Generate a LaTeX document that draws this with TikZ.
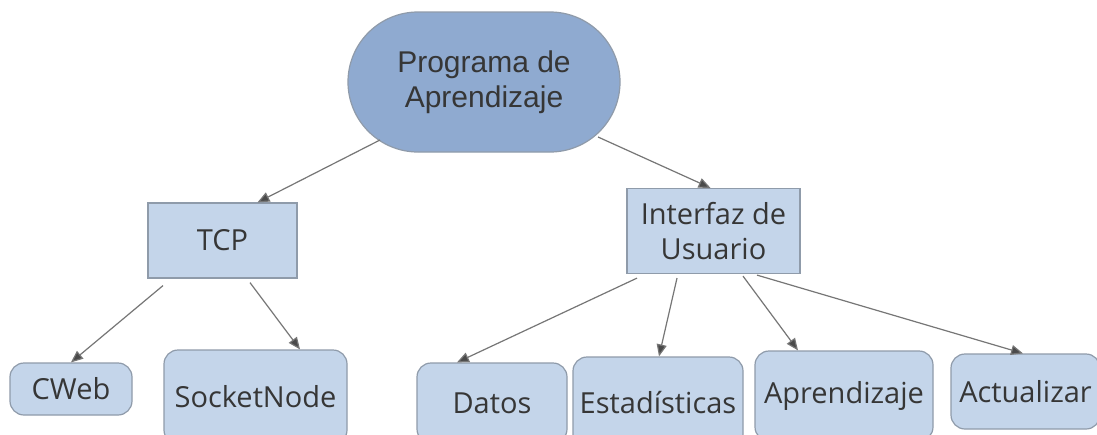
\documentclass[tikz,border=0pt]{standalone}
\usepackage{fontspec}
\setmainfont{Open Sans}
\newfontfamily\arialfont{Liberation Sans}
\usepackage{tikz}
\usetikzlibrary{arrows.meta,calc}
\definecolor{TopFill}{HTML}{8FAAD0}
\definecolor{BoxFill}{HTML}{C4D5EA}
\definecolor{EdgeGray}{HTML}{8F9BAA}
\definecolor{LineGray}{HTML}{767676}
\definecolor{TipGray}{HTML}{4A4A4A}
\definecolor{TextGray}{HTML}{363636}

\begin{document}
\begin{tikzpicture}[
    x=1pt, y=-1pt,
    text=TextGray,
    root/.style={rectangle, rounded corners=70pt, draw=EdgeGray, fill=TopFill, line width=1.2pt, align=center, inner sep=0pt, minimum width=272pt, minimum height=140pt, font=\arialfont\fontsize{30}{35}\selectfont},
    mid/.style={rectangle, draw=EdgeGray, fill=BoxFill, line width=1.2pt, align=center, inner sep=0pt, font=\fontsize{29}{35}\selectfont},
    leaf/.style={rectangle, rounded corners=14pt, draw=EdgeGray, fill=BoxFill, line width=1.2pt, align=center, inner sep=0pt, font=\fontsize{29}{35}\selectfont},
    arrow/.style={-{Triangle[length=12pt, width=10pt, fill=TipGray]}, line width=1.2pt, draw=LineGray}
]
\useasboundingbox (0,0) rectangle (1097,434);
\clip (0,0) rectangle (1097,434);
\fill[white] (0,0) rectangle (1097,434);

\node[root] (prog) at (484,82) {Programa de\\Aprendizaje};

\node[mid, minimum width=149pt, minimum height=75pt] (tcp) at (222.5,240.5) {TCP};
\node[mid, minimum width=173pt, minimum height=85pt] (iu) at (713.5,231) {Interfaz de\\Usuario};

\node[leaf, minimum width=122pt, minimum height=52pt] (cweb) at (71,389) {CWeb};
\node[leaf, minimum width=183pt, minimum height=94pt] (socket) at (255.5,397) {SocketNode};
\node[leaf, minimum width=150pt, minimum height=80pt] (datos) at (492,403) {Datos};
\node[leaf, minimum width=170pt, minimum height=91pt] (estad) at (658,402.5) {Estadísticas};
\node[leaf, minimum width=178pt, minimum height=90pt] (aprend) at (844,396) {Aprendizaje};
\node[leaf, minimum width=149pt, minimum height=75pt] (actual) at (1025.5,391.5) {Actualizar};

\draw[arrow] ([shift={(-104,58)}]prog.center) -- ([xshift=35pt]tcp.north);
\draw[arrow] ([shift={(114,55)}]prog.center) -- ([xshift=-3pt]iu.north);
\draw[arrow] ([shift={(-59.5,7)}]tcp.south) -- (cweb.north);
\draw[arrow] ([shift={(27.5,4)}]tcp.south) -- ([xshift=44.5pt]socket.north);
\draw[arrow] ([shift={(-76.5,4)}]iu.south) -- ([xshift=-35pt]datos.north);
\draw[arrow] ([shift={(-36.5,4)}]iu.south) -- ([xshift=1pt]estad.north);
\draw[arrow] ([shift={(29.5,2)}]iu.south) -- ([xshift=-46pt]aprend.north);
\draw[arrow] ([shift={(43.5,1)}]iu.south) -- ([xshift=-2.5pt]actual.north);
\end{tikzpicture}
\end{document}
